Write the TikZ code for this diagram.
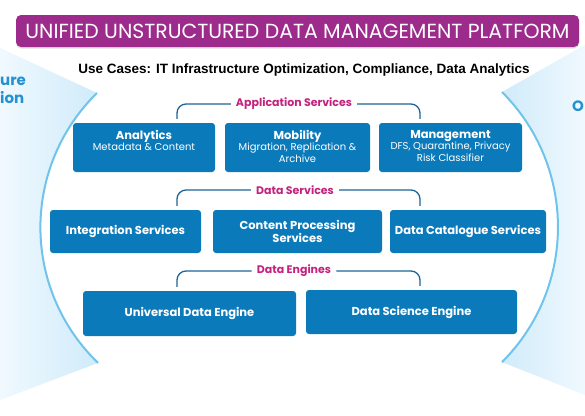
\documentclass[tikz,border=0pt]{standalone}
\usepackage{graphicx}
\usepackage{fontspec}
\setmainfont{Poppins}
\newfontfamily\casefont{Liberation Sans}
\usetikzlibrary{positioning, shadows}

\definecolor{platpurple}{RGB}{156,43,140}
\definecolor{svcblue}{RGB}{10,122,187}
\definecolor{grpmagenta}{RGB}{196,34,126}
\definecolor{brktblue}{RGB}{28,100,150}
\definecolor{arcblue}{RGB}{112,196,236}
\definecolor{wedgeblue}{RGB}{208,235,250}
\definecolor{wedgepale}{RGB}{240,249,254}
\definecolor{sideblue}{RGB}{36,146,208}

\tikzset{
  svcbox/.style={fill=svcblue, rounded corners=3pt, text=white, inner sep=0pt, align=center,
    font=\bfseries\fontsize{11.5}{13.5}\selectfont},
  grplabel/.style={text=grpmagenta, font=\bfseries\fontsize{11}{12}\selectfont, inner xsep=5pt, inner ysep=1pt},
  bracket/.style={draw=brktblue, line width=1.3pt, rounded corners=9pt, shorten >=4pt},
  arcline/.style={draw=arcblue, line width=2pt},
  sidetext/.style={text=sideblue, font=\bfseries\fontsize{15}{15}\selectfont, inner sep=0pt},
}
\newcommand{\apptext}[2]{\parbox[c][35pt][t]{140pt}{\centering\fontsize{11.5}{13}\selectfont #1\par
  \mdseries\fontsize{10}{11.5}\selectfont #2\par}}

\begin{document}
\begin{tikzpicture}[x=1pt, y=-1pt]
  \fill[white] (0,0) rectangle (585,415);
  \useasboundingbox (0,0) rectangle (585,415);

  % side wedges
  \shade[left color=wedgepale, right color=wedgeblue]
    (0,48) -- (97,93) arc[start angle=225.65, end angle=133.9, radius=188] -- (0,400) -- cycle;
  \shade[left color=wedgeblue, right color=wedgepale]
    (585,45) -- (502,92) arc[start angle=-45, end angle=45, radius=191] -- (585,395) -- cycle;
  \draw[arcline] (97,93) arc[start angle=225.65, end angle=133.9, radius=188];
  \draw[arcline] (502,92) arc[start angle=-45, end angle=45, radius=191];

  \node[sidetext, anchor=base west] (sideA) at (0,85) {ure};
  \node[sidetext, anchor=base west] (sideB) at (0,103) {ion};
  \node[sidetext, anchor=base west] (sideC) at (572,111) {O};

  % title and use cases
  \node[fill=platpurple, rounded corners=5pt, minimum width=563pt, minimum height=32pt, text=white,
    inner sep=0pt, drop shadow={opacity=0.25, shadow xshift=0pt, shadow yshift=-1.5pt}]
    (plat) at (297.5,31) {\resizebox{544pt}{!}{\fontsize{17}{17}\selectfont UNIFIED UNSTRUCTURED DATA MANAGEMENT PLATFORM}};
  \node[font=\casefont\bfseries\fontsize{13.5}{15}\selectfont] (cases) at (304,70)
    {Use Cases: IT Infrastructure Optimization, Compliance, Data Analytics};

  \coordinate (lx) at (177,0);
  \coordinate (rx) at (420,0);

  % application services
  \node[grplabel] (lblapp) at (294,104) {Application Services};
  \node[svcbox, minimum width=142pt, minimum height=49pt] (an) at (144,147.5)
    {\apptext{Analytics}{Metadata \& Content}};
  \node[svcbox, minimum width=145pt, minimum height=49pt] (mob) at (297.5,147.5)
    {\apptext{Mobility}{Migration, Replication \&\\Archive}};
  \node[svcbox, minimum width=143pt, minimum height=49pt] (mg) at (450.5,147.5)
    {\apptext{Management}{DFS, Quarantine, Privacy\\Risk Classifier}};
  \draw[bracket] (lblapp.west) -| (an.north -| lx);
  \draw[bracket] (lblapp.east) -| (mg.north -| rx);

  % data services
  \node[grplabel] (lbldata) at (295,190) {Data Services};
  \node[svcbox, minimum width=151pt, minimum height=43pt] (integ) at (125.5,231.5) {Integration Services};
  \node[svcbox, minimum width=169pt, minimum height=43pt] (cproc) at (297.5,231.5) {Content Processing\\Services};
  \node[svcbox, minimum width=156pt, minimum height=43pt] (dcat) at (468,231.5) {Data Catalogue Services};
  \draw[bracket] (lbldata.west) -| (integ.north -| lx);
  \draw[bracket] (lbldata.east) -| (dcat.north -| rx);

  % data engines
  \node[grplabel] (lbleng) at (294,271) {Data Engines};
  \node[svcbox, minimum width=213pt, minimum height=45pt] (unide) at (189.5,313.5) {Universal Data Engine};
  \node[svcbox, minimum width=211pt, minimum height=44pt] (dsci) at (411.5,312) {Data Science Engine};
  \draw[bracket] (lbleng.west) -| (unide.north -| lx);
  \draw[bracket] (lbleng.east) -| (dsci.north -| rx);
\end{tikzpicture}
\end{document}
